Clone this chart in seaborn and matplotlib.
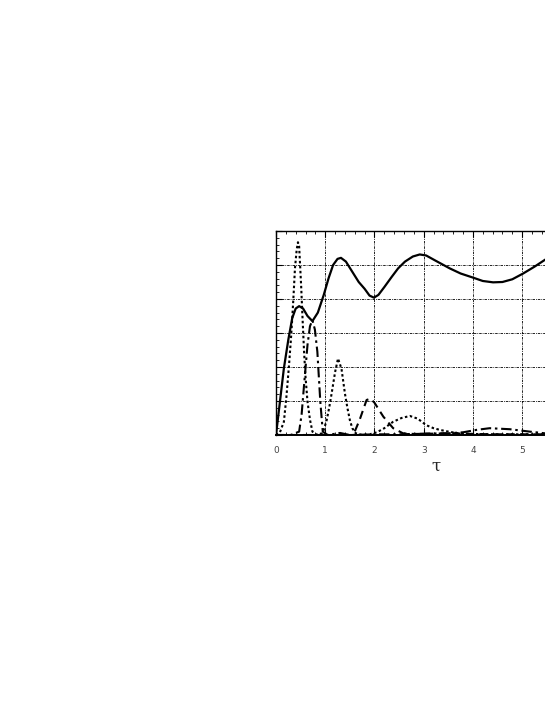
import numpy as np
import pandas as pd
import seaborn as sns
import matplotlib.pyplot as plt
from matplotlib.ticker import MultipleLocator

# values (y axis in grid units, 0..6)
tau_solid = [0, 0.08, 0.16, 0.25, 0.33, 0.40, 0.47, 0.55, 0.64, 0.74, 0.85, 0.97, 1.07, 1.16,
             1.25, 1.32, 1.42, 1.55, 1.68, 1.80, 1.90, 1.99, 2.08, 2.20, 2.35, 2.48, 2.62, 2.78,
             2.92, 3.05, 3.25, 3.53, 3.75, 4.00, 4.20, 4.41, 4.60, 4.80, 5.02, 5.25, 5.46, 5.7]
solid = [0, 0.98, 1.96, 2.8, 3.44, 3.72, 3.79, 3.72, 3.5, 3.35, 3.6, 4.12, 4.62, 5.0,
         5.18, 5.21, 5.1, 4.8, 4.5, 4.3, 4.1, 4.04, 4.12, 4.35, 4.65, 4.9, 5.1, 5.25,
         5.31, 5.28, 5.12, 4.9, 4.75, 4.63, 4.53, 4.49, 4.5, 4.58, 4.75, 4.95, 5.15, 5.35]

tau_dot = [0, 0.08, 0.16, 0.21, 0.26, 0.30, 0.33, 0.36, 0.385, 0.42, 0.446, 0.47, 0.51, 0.54,
           0.57, 0.60, 0.64, 0.69, 0.74, 0.80, 0.87, 0.93, 0.97, 1.03, 1.08, 1.13, 1.20, 1.26,
           1.33, 1.40, 1.45, 1.50, 1.55, 1.62, 1.75, 1.90, 2.05, 2.20, 2.38, 2.55, 2.72, 2.88,
           3.05, 3.20, 3.33, 3.50, 3.70, 4.00, 4.50, 5.00, 5.46, 5.7]
dot = [0, 0.08, 0.39, 1.1, 1.97, 2.75, 3.43, 4.2, 4.9, 5.45, 5.67, 5.55, 4.41, 3.4,
       2.45, 1.7, 0.98, 0.45, 0.1, 0.02, 0.02, 0.05, 0.15, 0.44, 0.8, 1.22, 1.85, 2.25,
       1.95, 1.22, 0.8, 0.44, 0.2, 0.05, 0.0, 0.02, 0.08, 0.2, 0.39, 0.5, 0.56, 0.48,
       0.29, 0.2, 0.15, 0.1, 0.05, 0.03, 0.02, 0.02, 0.02, 0.02]

tau_dashdot = [0, 0.3, 0.47, 0.52, 0.57, 0.64, 0.69, 0.74, 0.79, 0.84, 0.90, 0.95, 1.05,
               1.30, 1.50, 2.00, 2.50, 3.00, 3.50, 3.80, 4.07, 4.34, 4.75, 5.15, 5.46, 5.7]
dashdot = [0, 0, 0.1, 0.6, 1.47, 2.65, 3.2, 3.38, 3.1, 2.45, 0.98, 0.1, 0.0,
           0.06, 0.0, 0.02, 0.02, 0.04, 0.05, 0.08, 0.15, 0.2, 0.17, 0.1, 0.05, 0.04]

tau_dash = [0, 1.4, 1.57, 1.70, 1.84, 1.92, 2.00, 2.18, 2.38, 2.58, 2.80, 3.20, 3.60,
            4.00, 4.50, 5.00, 5.46, 5.7]
dash = [0, 0, 0.0, 0.45, 1.03, 1.07, 0.95, 0.54, 0.2, 0.05, 0.03, 0.04, 0.05,
        0.03, 0.02, 0.02, 0.02, 0.02]

xticks = [0, 1, 2, 3, 4, 5]

sns.set_style("white")
plt.rcParams['font.family'] = ['DejaVu Sans']

fig = plt.figure(figsize=(5.45, 7.05), dpi=100)
ax = fig.add_axes([276 / 545, 270 / 705, 320 / 545, 204 / 705])

curves = [(tau_solid, solid, '-', 1.6),
          (tau_dot, dot, (0, (1.2, 1.2)), 1.5),
          (tau_dashdot, dashdot, (0, (5, 1.8, 1.2, 1.8)), 1.5),
          (tau_dash, dash, (0, (4, 2.5)), 1.5)]
for xs, ys, ls, lw in curves:
    sns.lineplot(x=xs, y=ys, ax=ax, color='black', linestyle=ls, linewidth=lw,
                 sort=False, zorder=3)

ax.set_xlim(0, 6.5)
ax.set_ylim(0, 6)
ax.set_xticks(xticks)
ax.set_xticklabels([str(t) for t in xticks])
ax.xaxis.set_minor_locator(MultipleLocator(0.2))
ax.set_yticks([0, 1, 2, 3, 4, 5, 6])
ax.yaxis.set_minor_locator(MultipleLocator(0.2))
ax.set_yticklabels([])
ax.grid(True, which='major', color='black', linestyle=(0, (3, 1.2, 1, 1.2)), linewidth=0.6)
ax.tick_params(which='both', direction='in', top=True, bottom=True, left=True, right=True,
               color='black')
ax.tick_params(which='major', length=4, width=0.8, labelsize=6.5, labelcolor='#444444', pad=8)
ax.tick_params(which='minor', length=2.5, width=0.6)
for s in ax.spines.values():
    s.set_color('black')
    s.set_linewidth(1.0)
ax.spines['bottom'].set_linewidth(1.4)
ax.set_xlabel('τ', fontsize=12, family='DejaVu Serif', labelpad=2)
ax.set_ylabel('')

fig.savefig('out.png', dpi=100)
